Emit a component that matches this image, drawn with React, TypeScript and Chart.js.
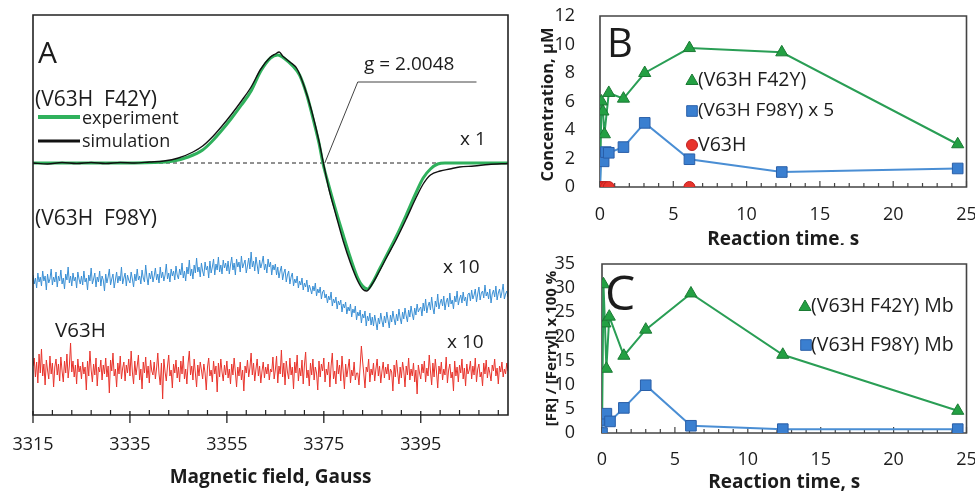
import React, { useEffect, useRef } from 'react';
import { Chart, registerables } from 'chart.js';
Chart.register(...registerables);

const FAM = '"Open Sans", "Noto Sans", sans-serif';
Chart.defaults.font.family = FAM;

// ---------------- Panel A (EPR spectra) ----------------
const fieldTicksA = [3315, 3335, 3355, 3375, 3395];
const fieldMin = 3315;
const fieldMax = 3413;
const signalMin = -252;
const signalMax = 148;

const expField = [3315, 3330, 3340, 3344, 3347, 3350, 3352, 3354, 3356, 3358, 3360, 3362, 3364, 3365.5, 3367, 3368.6, 3370, 3371.5, 3373, 3374, 3374.8, 3376, 3377.5, 3379, 3380.5, 3382, 3383, 3384, 3385, 3386.5, 3388, 3390, 3392, 3394, 3395.5, 3397, 3398.5, 3400, 3413];
const expSignal = [0, 0, 0.5, 2, 6, 13, 22, 33, 45, 58, 72, 92, 105, 108, 104, 97, 88, 68, 40, 20, 0, -22, -48, -72, -95, -115, -123, -126, -120, -106, -92, -73, -52, -30, -15, -6, -1, 0, 0];

const simField = [3315, 3318, 3321, 3324, 3327, 3330, 3333, 3336, 3339, 3342, 3345, 3348, 3350, 3352, 3354, 3356, 3358, 3360, 3362, 3364, 3365, 3365.8, 3366.5, 3368, 3369.5, 3371, 3372.5, 3374, 3375, 3376, 3377.5, 3379, 3380.5, 3382, 3383, 3383.8, 3385, 3386.5, 3388, 3390, 3392, 3394, 3395.5, 3397, 3399, 3401, 3403, 3406, 3409, 3413];
const simSignal = [0, -1, 0.5, -0.5, 0.5, -0.5, 0.5, 0, 1, 2, 5, 11, 17, 26, 37, 49, 62, 76, 94, 106, 109, 111, 107, 101, 94, 76, 52, 22, -2, -25, -52, -78, -100, -118, -126, -128, -121, -108, -94, -76, -56, -35, -21, -12, -8, -6, -4, -3, -1.5, -0.5];

const traceStart = 3315;
const traceStep = 0.25;
const f98ySignal = [
  -112, -121, -115, -125, -110, -119, -114, -123, -108, -118, -113, -127, -111, -120, -116, -106, -122, -114, -119, -109,
  -124, -113, -118, -107, -121, -115, -126, -111, -117, -104, -120, -113, -123, -110, -118, -114, -125, -109, -116, -121,
  -113, -122, -108, -119, -115, -127, -112, -118, -105, -121, -116, -110, -124, -114, -119, -108, -123, -113, -117, -128,
  -111, -120, -114, -106, -122, -116, -111, -125, -117, -109, -120, -113, -118, -104, -121, -115, -110, -123, -112, -117,
  -120, -109, -116, -124, -111, -118, -106, -117, -113, -121, -107, -115, -119, -102, -114, -122, -110, -116, -108, -119,
  -113, -105, -117, -111, -120, -104, -115, -109, -118, -112, -101, -116, -110, -119, -106, -113, -108, -117, -103, -112,
  -116, -106, -112, -100, -115, -108, -118, -104, -111, -97, -113, -106, -116, -102, -110, -95, -109, -104, -114, -100,
  -108, -113, -99, -107, -103, -115, -98, -110, -104, -96, -112, -101, -107, -94, -109, -102, -111, -97, -105, -100,
  -108, -98, -111, -102, -94, -107, -100, -112, -96, -104, -99, -109, -93, -105, -101, -97, -110, -103, -95, -106,
  -89, -104, -98, -108, -94, -102, -111, -97, -105, -100, -93, -107, -101, -110, -96, -104, -99, -112, -102, -107,
  -101, -112, -104, -115, -108, -103, -117, -110, -106, -119, -112, -108, -121, -114, -110, -123, -116, -120, -113, -125,
  -118, -122, -115, -127, -120, -124, -117, -129, -122, -126, -131, -123, -128, -120, -133, -126, -130, -124, -136, -129,
  -127, -135, -131, -140, -133, -137, -129, -143, -136, -140, -134, -146, -138, -142, -137, -149, -141, -145, -139, -151,
  -144, -148, -141, -154, -146, -150, -143, -157, -149, -153, -147, -160, -151, -155, -148, -163, -153, -158, -150, -162,
  -154, -163, -152, -159, -167, -155, -161, -150, -158, -164, -153, -160, -149, -157, -165, -152, -159, -148, -156, -162,
  -151, -158, -146, -155, -161, -149, -156, -145, -153, -159, -147, -154, -143, -151, -157, -145, -152, -141, -149, -146,
  -144, -153, -140, -148, -136, -150, -143, -139, -147, -134, -145, -151, -138, -144, -131, -146, -140, -136, -143, -133,
  -147, -139, -135, -144, -130, -141, -137, -146, -133, -139, -128, -142, -136, -132, -140, -129, -138, -134, -143, -131,
  -130, -138, -127, -136, -132, -126, -139, -131, -124, -137, -130, -128, -135, -122, -133, -129, -136, -126, -140, -131,
  -127, -134, -123, -137, -130, -126, -135, -129, -121, -136, -131, -128, -134,
];
const v63hSignal = [
  -203, -195, -214, -199, -220, -191, -210, -186, -213, -201, -222, -197, -207, -216, -193, -211, -200, -224, -204, -196,
  -212, -201, -218, -194, -208, -219, -198, -210, -191, -215, -203, -180, -209, -198, -214, -202, -221, -196, -209, -203,
  -216, -199, -211, -204, -227, -198, -213, -188, -207, -219, -201, -212, -195, -223, -204, -209, -197, -217, -202, -211,
  -195, -214, -203, -230, -197, -208, -190, -213, -206, -224, -200, -211, -193, -216, -205, -199, -218, -202, -210, -196,
  -213, -188, -209, -221, -198, -212, -203, -192, -217, -206, -226, -199, -210, -194, -215, -203, -220, -197, -208, -212,
  -199, -216, -205, -190, -211, -222, -200, -236, -196, -209, -218, -203, -192, -213, -207, -225, -201, -210, -197, -215,
  -204, -219, -198, -211, -193, -216, -206, -221, -200, -188, -212, -203, -217, -196, -210, -224, -202, -213, -199, -207,
  -216, -201, -210, -227, -204, -195, -213, -207, -219, -198, -211, -203, -229, -200, -214, -196, -209, -218, -202, -212,
  -198, -215, -206, -221, -201, -212, -195, -209, -224, -204, -213, -199, -217, -207, -228, -203, -210, -197, -214, -205,
  -190, -212, -200, -218, -206, -196, -213, -203, -220, -208, -199, -215, -204, -211, -201, -217, -206, -209, -194, -216,
  -207, -193, -220, -203, -211, -187, -214, -200, -222, -198, -209, -216, -195, -212, -204, -226, -199, -210, -192, -218,
  -205, -213, -197, -221, -202, -189, -215, -207, -223, -200, -212, -196, -217, -204, -210, -227, -198, -214, -201, -208,
  -195, -219, -206, -212, -199, -224, -203, -190, -216, -208, -221, -197, -211, -202, -218, -193, -209, -226, -201, -214,
  -205, -196, -220, -207, -213, -199, -217, -210, -210, -222, -203, -183, -198, -211, -225, -204, -209, -196, -219, -206,
  -212, -200, -218, -206, -196, -213, -203, -220, -208, -199, -215, -204, -211, -201, -217, -206, -209, -228, -202, -214,
  -197, -210, -221, -204, -215, -199, -208, -224, -203, -212, -195, -217, -206, -213, -200, -219, -207, -231, -202, -210,
  -216, -201, -210, -198, -219, -205, -213, -192, -208, -222, -200, -214, -196, -209, -225, -203, -211, -199, -217, -206,
  -212, -194, -220, -207, -201, -215, -209, -228, -198, -213, -204, -219, -202, -210, -196, -216, -205, -223, -201, -211,
  -207, -198, -216, -203, -212, -195, -219, -206, -201, -214, -209, -223, -200, -211, -197, -215, -204, -210, -218, -202,
  -208, -196, -213, -205, -221, -203, -209, -199, -214, -206, -211, -200, -208,
];

// ---------------- Panel B ----------------
const timeMax = 25;
const timeB_F42Y = [0, 0.1, 0.2, 0.3, 0.6, 1.6, 3.05, 6.1, 12.4, 24.4];
const concF42Y = [0, 6.0, 5.3, 3.7, 6.6, 6.2, 8.0, 9.75, 9.45, 3.0];
const timeB_F98Y = [0, 0.1, 0.25, 0.4, 0.6, 1.6, 3.05, 6.1, 12.4, 24.4];
const concF98Yx5 = [0, 2.35, 1.8, 2.45, 2.4, 2.8, 4.5, 1.95, 1.05, 1.3];
const timeB_V63H = [0, 0.1, 0.25, 0.4, 0.6, 6.1];
const concV63H = [0, 0, 0, 0, 0, 0];

// ---------------- Panel C ----------------
const timeC_F42Y = [0, 0.1, 0.2, 0.3, 0.5, 1.5, 3.0, 6.1, 12.4, 24.4];
const ratioF42Y = [0, 30.8, 22.7, 13.3, 24.1, 16.0, 21.4, 28.9, 16.2, 4.6];
const timeC_F98Y = [0, 0.05, 0.3, 0.55, 1.5, 3.0, 6.1, 12.4, 24.4];
const ratioF98Y = [0, 2.7, 4.0, 2.4, 5.2, 9.9, 1.5, 0.8, 0.8];

const GREEN_A = '#2fb15c';
const GREEN_LINE = '#2a9e55';
const GREEN_FILL = '#23a043';
const GREEN_EDGE = '#1b7a34';
const BLUE_A = '#3a8fd4';
const BLUE_LINE = '#4a8ed4';
const BLUE_FILL = '#3a7fd0';
const BLUE_EDGE = '#2a5fa8';
const RED = '#e8342c';
const TXT = '#1c1c1c';

function zip(xs: number[], ys: number[]) {
  return xs.map((x, i) => ({ x, y: ys[i] }));
}
function seq(start: number, step: number, ys: number[]) {
  return ys.map((y, i) => ({ x: start + i * step, y }));
}

function text(ctx: CanvasRenderingContext2D, s: string, x: number, y: number, size: number, o: any = {}) {
  ctx.save();
  ctx.font = `${o.bold ? 'bold ' : ''}${size}px ${FAM}`;
  ctx.fillStyle = o.color || TXT;
  ctx.textAlign = o.align || 'left';
  ctx.textBaseline = o.baseline || 'alphabetic';
  if (o.rotate) {
    ctx.translate(x, y);
    ctx.rotate(o.rotate);
    ctx.fillText(s, 0, 0);
  } else {
    ctx.fillText(s, x, y);
  }
  ctx.restore();
}

function shape(ctx: CanvasRenderingContext2D, kind: string, x: number, y: number, r: number, fill: string, edge: string) {
  ctx.save();
  ctx.beginPath();
  if (kind === 'triangle') {
    ctx.moveTo(x, y - r);
    ctx.lineTo(x + r * 0.866, y + r * 0.5);
    ctx.lineTo(x - r * 0.866, y + r * 0.5);
    ctx.closePath();
  } else if (kind === 'rect') {
    const s = r * Math.SQRT1_2;
    ctx.rect(x - s, y - s, 2 * s, 2 * s);
  } else {
    ctx.arc(x, y, r, 0, Math.PI * 2);
  }
  ctx.fillStyle = fill;
  ctx.fill();
  ctx.strokeStyle = edge;
  ctx.lineWidth = 1;
  ctx.stroke();
  ctx.restore();
}

function line(ctx: CanvasRenderingContext2D, x1: number, y1: number, x2: number, y2: number, color: string, w: number, dash: number[] = []) {
  ctx.save();
  ctx.beginPath();
  ctx.setLineDash(dash);
  ctx.strokeStyle = color;
  ctx.lineWidth = w;
  ctx.moveTo(x1, y1);
  ctx.lineTo(x2, y2);
  ctx.stroke();
  ctx.restore();
}

function box(ctx: CanvasRenderingContext2D, L: number, T: number, R: number, B: number, color: string, w: number) {
  ctx.save();
  ctx.setLineDash([]);
  ctx.strokeStyle = color;
  ctx.lineWidth = w;
  ctx.beginPath();
  ctx.moveTo(L, T);
  ctx.lineTo(R, T);
  ctx.lineTo(R, B);
  ctx.lineTo(L, B);
  ctx.closePath();
  ctx.stroke();
  ctx.restore();
}

function makeA(canvas: HTMLCanvasElement) {
  const plugin = {
    id: 'decorA',
    beforeDatasetsDraw(chart: any) {
      const { ctx, scales } = chart;
      const x = scales.x, y = scales.y;
      const y0 = y.getPixelForValue(0);
      line(ctx, x.getPixelForValue(fieldMin), y0, x.getPixelForValue(fieldMax), y0, '#222', 1, [4, 3]);
    },
    afterDraw(chart: any) {
      const { ctx, scales } = chart;
      const x = scales.x;
      const y = scales.y;
      const L = x.getPixelForValue(fieldMin), R = x.getPixelForValue(fieldMax);
      const T = y.getPixelForValue(signalMax), B = y.getPixelForValue(signalMin);
      box(ctx, L, T, R, B, '#222', 1.6);
      for (let v = fieldMin; v <= fieldMax; v += 4) {
        const px = x.getPixelForValue(v);
        if (fieldTicksA.includes(v)) line(ctx, px, B - 4, px, B + 8, '#222', 1.3);
        else line(ctx, px, B - 5, px, B, '#222', 1.2);
      }
      const p0x = x.getPixelForValue(3375.2), p0y = y.getPixelForValue(0);
      const p1x = x.getPixelForValue(3382), p1y = y.getPixelForValue(81);
      const p2x = x.getPixelForValue(3406.5);
      ctx.save();
      ctx.beginPath();
      ctx.strokeStyle = '#444';
      ctx.lineWidth = 1;
      ctx.moveTo(p0x, p0y);
      ctx.lineTo(p1x, p1y);
      ctx.lineTo(p2x, p1y);
      ctx.stroke();
      ctx.restore();

      text(ctx, 'A', 38, 63, 30);
      text(ctx, '(V63H  F42Y)', 35, 106, 21);
      line(ctx, 38, 117, 80, 117, GREEN_A, 4);
      text(ctx, 'experiment', 82, 124, 18);
      line(ctx, 38, 141, 80, 141, '#111', 3);
      text(ctx, 'simulation', 82, 147, 18);
      text(ctx, 'g = 2.0048', 364, 70, 19);
      text(ctx, 'x 1', 460, 145, 19);
      text(ctx, '(V63H  F98Y)', 35, 225, 21);
      text(ctx, 'x 10', 443, 273, 19);
      text(ctx, 'V63H', 55, 337, 20.5);
      text(ctx, 'x 10', 447, 348, 19);
      text(ctx, 'Magnetic field, Gauss', (L + R) / 2, 478, 19, { bold: true, align: 'center', baseline: 'middle' });
    },
  };
  return new Chart(canvas, {
    type: 'line',
    data: {
      datasets: [
        { label: 'simulation', data: zip(simField, simSignal), borderColor: '#111', borderWidth: 1.4, pointRadius: 0, cubicInterpolationMode: 'monotone', order: 0 } as any,
        { label: 'experiment', data: zip(expField, expSignal), borderColor: GREEN_A, borderWidth: 3, pointRadius: 0, cubicInterpolationMode: 'monotone', order: 1 },
        { label: '(V63H F98Y)', data: seq(traceStart, traceStep, f98ySignal), borderColor: BLUE_A, borderWidth: 1, pointRadius: 0, order: 2 },
        { label: 'V63H', data: seq(traceStart, traceStep, v63hSignal), borderColor: RED, borderWidth: 1, pointRadius: 0, order: 3 },
      ],
    },
    options: {
      animation: false,
      responsive: false,
      layout: { padding: { left: 33, right: 12, top: 15, bottom: 0 } },
      plugins: { legend: { display: false }, tooltip: { enabled: false } },
      scales: {
        x: {
          type: 'linear',
          min: fieldMin,
          max: fieldMax,
          grid: { display: false },
          border: { display: false },
          afterBuildTicks: (ax: any) => { ax.ticks = fieldTicksA.map((v) => ({ value: v })); },
          afterFit: (ax: any) => { ax.height = 80; ax.paddingLeft = 0; ax.paddingRight = 0; },
          ticks: { font: { size: 18 }, color: TXT, padding: 11, maxRotation: 0, autoSkip: false, callback: (v: any) => String(v) },
        },
        y: { display: false, min: signalMin, max: signalMax },
      },
    } as any,
    plugins: [plugin],
  });
}

function kineticOptions(yMax: number, yStep: number, padTop: number, padRight: number, xAxisH: number, yAxisW: number, xPad: number, yPad: number) {
  return {
    animation: false,
    responsive: false,
    layout: { padding: { left: 0, right: padRight, top: padTop, bottom: 0 } },
    plugins: { legend: { display: false }, tooltip: { enabled: false } },
    scales: {
      x: {
        type: 'linear',
        min: 0,
        max: timeMax,
        grid: { display: false },
        border: { display: false },
        afterFit: (ax: any) => { ax.height = xAxisH; ax.paddingLeft = 0; ax.paddingRight = 0; },
        ticks: { stepSize: 5, font: { size: 18 }, color: TXT, padding: xPad, maxRotation: 0, autoSkip: false },
      },
      y: {
        type: 'linear',
        min: 0,
        max: yMax,
        grid: { display: false },
        border: { display: false },
        afterFit: (ax: any) => { ax.width = yAxisW; ax.paddingTop = 0; ax.paddingBottom = 0; },
        ticks: { stepSize: yStep, font: { size: 18 }, color: TXT, padding: yPad, autoSkip: false },
      },
    },
  } as any;
}

function frameAndTicks(chart: any) {
  const { ctx, scales } = chart;
  const x = scales.x, y = scales.y;
  const L = x.getPixelForValue(0), R = x.getPixelForValue(timeMax);
  const T = y.getPixelForValue(y.max), B = y.getPixelForValue(0);
  box(ctx, L, T, R, B, '#444', 1.6);
  for (let v = 0; v <= timeMax; v += 1) {
    const px = x.getPixelForValue(v);
    line(ctx, px, B, px, B - (v % 5 === 0 ? 6 : 4), '#444', 1.2);
  }
}

function makeB(canvas: HTMLCanvasElement) {
  const plugin = {
    id: 'decorB',
    beforeDatasetsDraw(chart: any) { frameAndTicks(chart); },
    afterDraw(chart: any) {
      const { ctx, chartArea: a } = chart;
      text(ctx, 'B', 87, 57, 40);
      text(ctx, 'Concentration, µM', 28, (a.top + a.bottom) / 2 + 3, 16.5, { bold: true, align: 'center', baseline: 'middle', rotate: -Math.PI / 2 });
      text(ctx, 'Reaction time, s', (a.left + a.right) / 2, 240, 19, { bold: true, align: 'center', baseline: 'middle' });
      shape(ctx, 'triangle', 172, 81, 7, GREEN_FILL, GREEN_EDGE);
      text(ctx, '(V63H F42Y)', 178, 80, 19.5, { baseline: 'middle' });
      shape(ctx, 'rect', 172, 111, 7.5, BLUE_FILL, BLUE_EDGE);
      text(ctx, '(V63H F98Y) x 5', 178, 111, 19, { baseline: 'middle' });
      shape(ctx, 'circle', 172, 145, 5.5, RED, '#c02020');
      text(ctx, 'V63H', 178, 145, 19.5, { baseline: 'middle' });
    },
  };
  return new Chart(canvas, {
    type: 'line',
    data: {
      datasets: [
        { label: 'V63H', data: zip(timeB_V63H, concV63H), showLine: false, pointStyle: 'circle', pointRadius: 5.5, backgroundColor: RED, borderColor: '#c02020', borderWidth: 1, order: 0 } as any,
        { label: '(V63H F98Y) x 5', data: zip(timeB_F98Y, concF98Yx5), borderColor: BLUE_LINE, borderWidth: 2, pointStyle: 'rect', pointRadius: 7.5, pointBackgroundColor: BLUE_FILL, pointBorderColor: BLUE_EDGE, pointBorderWidth: 1, order: 1 },
        { label: '(V63H F42Y)', data: zip(timeB_F42Y, concF42Y), borderColor: GREEN_LINE, borderWidth: 2, pointStyle: 'triangle', pointRadius: 7, pointBackgroundColor: GREEN_FILL, pointBorderColor: GREEN_EDGE, pointBorderWidth: 1, order: 2 },
      ],
    },
    options: kineticOptions(12, 2, 16, 8, 58, 80, 9, 17),
    plugins: [plugin],
  });
}

function makeC(canvas: HTMLCanvasElement) {
  const plugin = {
    id: 'decorC',
    beforeDatasetsDraw(chart: any) { frameAndTicks(chart); },
    afterDraw(chart: any) {
      const { ctx, chartArea: a } = chart;
      text(ctx, 'C', 85, 65, 48);
      text(ctx, '[FR] / [Ferryl] x 100 %', 32, (a.top + a.bottom) / 2, 15, { bold: true, align: 'center', baseline: 'middle', rotate: -Math.PI / 2 });
      text(ctx, 'Reaction time, s', (a.left + a.right) / 2, 238, 19, { bold: true, align: 'center', baseline: 'middle' });
      shape(ctx, 'triangle', 285, 62, 7, GREEN_FILL, GREEN_EDGE);
      text(ctx, '(V63H F42Y) Mb', 291, 61, 19.5, { baseline: 'middle' });
      shape(ctx, 'rect', 286, 100, 7.5, BLUE_FILL, BLUE_EDGE);
      text(ctx, '(V63H F98Y) Mb', 291, 100, 19.5, { baseline: 'middle' });
    },
  };
  return new Chart(canvas, {
    type: 'line',
    data: {
      datasets: [
        { label: '(V63H F98Y) Mb', data: zip(timeC_F98Y, ratioF98Y), borderColor: BLUE_LINE, borderWidth: 2, pointStyle: 'rect', pointRadius: 7.5, pointBackgroundColor: BLUE_FILL, pointBorderColor: BLUE_EDGE, pointBorderWidth: 1, order: 0 } as any,
        { label: '(V63H F42Y) Mb', data: zip(timeC_F42Y, ratioF42Y), borderColor: GREEN_LINE, borderWidth: 2, pointStyle: 'triangle', pointRadius: 7, pointBackgroundColor: GREEN_FILL, pointBorderColor: GREEN_EDGE, pointBorderWidth: 1, order: 1 },
      ],
    },
    options: kineticOptions(35, 5, 19, 8, 62, 82, 8, 19),
    plugins: [plugin],
  });
}

export default function App() {
  const refA = useRef<HTMLCanvasElement>(null);
  const refB = useRef<HTMLCanvasElement>(null);
  const refC = useRef<HTMLCanvasElement>(null);
  useEffect(() => {
    const charts = [makeA(refA.current!), makeB(refB.current!), makeC(refC.current!)];
    return () => charts.forEach((c) => c.destroy());
  }, []);
  return (
    <div style={{ position: 'fixed', left: 0, top: 0, width: 975, height: 495, background: '#fff', overflow: 'hidden' }}>
      <canvas ref={refA} width={520} height={495} style={{ position: 'absolute', left: 0, top: 0, width: 520, height: 495 }} />
      <canvas ref={refB} width={455} height={245} style={{ position: 'absolute', left: 520, top: 0, width: 455, height: 245 }} />
      <canvas ref={refC} width={455} height={250} style={{ position: 'absolute', left: 520, top: 245, width: 455, height: 250 }} />
    </div>
  );
}
